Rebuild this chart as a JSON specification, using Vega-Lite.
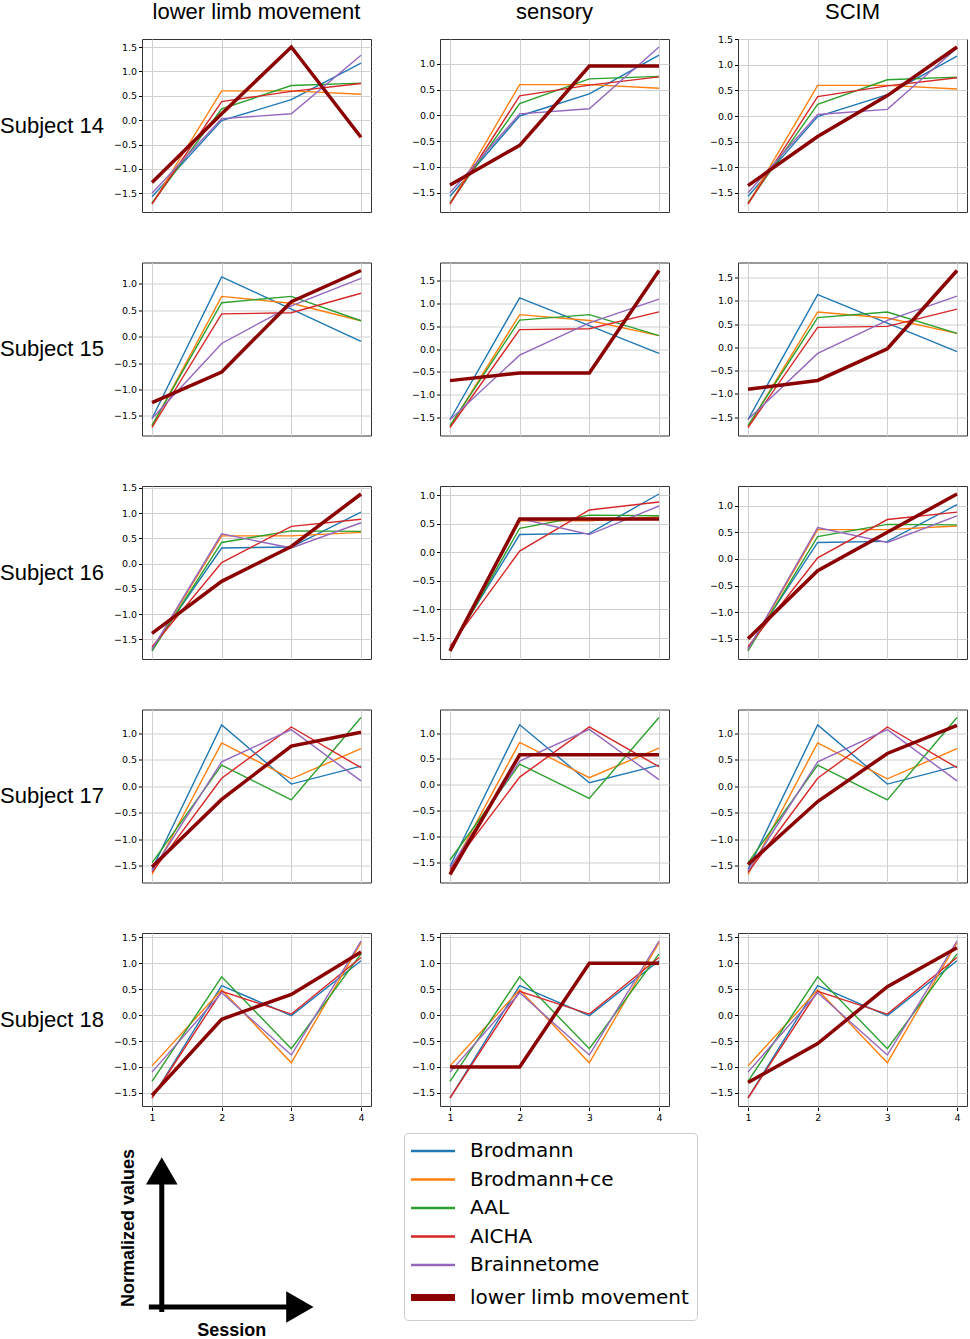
{
  "$schema": "https://vega.github.io/schema/vega-lite/v6.json",
  "description": "Normalized atlas predictions vs clinical scores per subject and session",
  "padding": {"top": 1, "left": 0, "right": 0, "bottom": 0},
  "autosize": {"type": "pad"},
  "data": {
    "values": [
      {"subject":"Subject 14","measure":"lower limb movement","series":"Brodmann","session":1,"value":-1.57},
      {"subject":"Subject 14","measure":"lower limb movement","series":"Brodmann","session":2,"value":-0.01},
      {"subject":"Subject 14","measure":"lower limb movement","series":"Brodmann","session":3,"value":0.42},
      {"subject":"Subject 14","measure":"lower limb movement","series":"Brodmann","session":4,"value":1.17},
      {"subject":"Subject 14","measure":"lower limb movement","series":"Brodmann+ce","session":1,"value":-1.72},
      {"subject":"Subject 14","measure":"lower limb movement","series":"Brodmann+ce","session":2,"value":0.6},
      {"subject":"Subject 14","measure":"lower limb movement","series":"Brodmann+ce","session":3,"value":0.6},
      {"subject":"Subject 14","measure":"lower limb movement","series":"Brodmann+ce","session":4,"value":0.53},
      {"subject":"Subject 14","measure":"lower limb movement","series":"AAL","session":1,"value":-1.7},
      {"subject":"Subject 14","measure":"lower limb movement","series":"AAL","session":2,"value":0.23},
      {"subject":"Subject 14","measure":"lower limb movement","series":"AAL","session":3,"value":0.71},
      {"subject":"Subject 14","measure":"lower limb movement","series":"AAL","session":4,"value":0.76},
      {"subject":"Subject 14","measure":"lower limb movement","series":"AICHA","session":1,"value":-1.72},
      {"subject":"Subject 14","measure":"lower limb movement","series":"AICHA","session":2,"value":0.38},
      {"subject":"Subject 14","measure":"lower limb movement","series":"AICHA","session":3,"value":0.59},
      {"subject":"Subject 14","measure":"lower limb movement","series":"AICHA","session":4,"value":0.75},
      {"subject":"Subject 14","measure":"lower limb movement","series":"Brainnetome","session":1,"value":-1.5},
      {"subject":"Subject 14","measure":"lower limb movement","series":"Brainnetome","session":2,"value":0.03},
      {"subject":"Subject 14","measure":"lower limb movement","series":"Brainnetome","session":3,"value":0.13},
      {"subject":"Subject 14","measure":"lower limb movement","series":"Brainnetome","session":4,"value":1.33},
      {"subject":"Subject 14","measure":"lower limb movement","series":"score","session":1,"value":-1.28},
      {"subject":"Subject 14","measure":"lower limb movement","series":"score","session":2,"value":0.13},
      {"subject":"Subject 14","measure":"lower limb movement","series":"score","session":3,"value":1.5},
      {"subject":"Subject 14","measure":"lower limb movement","series":"score","session":4,"value":-0.35},
      {"subject":"Subject 14","measure":"sensory","series":"Brodmann","session":1,"value":-1.57},
      {"subject":"Subject 14","measure":"sensory","series":"Brodmann","session":2,"value":-0.01},
      {"subject":"Subject 14","measure":"sensory","series":"Brodmann","session":3,"value":0.42},
      {"subject":"Subject 14","measure":"sensory","series":"Brodmann","session":4,"value":1.17},
      {"subject":"Subject 14","measure":"sensory","series":"Brodmann+ce","session":1,"value":-1.72},
      {"subject":"Subject 14","measure":"sensory","series":"Brodmann+ce","session":2,"value":0.6},
      {"subject":"Subject 14","measure":"sensory","series":"Brodmann+ce","session":3,"value":0.6},
      {"subject":"Subject 14","measure":"sensory","series":"Brodmann+ce","session":4,"value":0.53},
      {"subject":"Subject 14","measure":"sensory","series":"AAL","session":1,"value":-1.7},
      {"subject":"Subject 14","measure":"sensory","series":"AAL","session":2,"value":0.23},
      {"subject":"Subject 14","measure":"sensory","series":"AAL","session":3,"value":0.71},
      {"subject":"Subject 14","measure":"sensory","series":"AAL","session":4,"value":0.76},
      {"subject":"Subject 14","measure":"sensory","series":"AICHA","session":1,"value":-1.72},
      {"subject":"Subject 14","measure":"sensory","series":"AICHA","session":2,"value":0.38},
      {"subject":"Subject 14","measure":"sensory","series":"AICHA","session":3,"value":0.59},
      {"subject":"Subject 14","measure":"sensory","series":"AICHA","session":4,"value":0.75},
      {"subject":"Subject 14","measure":"sensory","series":"Brainnetome","session":1,"value":-1.5},
      {"subject":"Subject 14","measure":"sensory","series":"Brainnetome","session":2,"value":0.03},
      {"subject":"Subject 14","measure":"sensory","series":"Brainnetome","session":3,"value":0.13},
      {"subject":"Subject 14","measure":"sensory","series":"Brainnetome","session":4,"value":1.33},
      {"subject":"Subject 14","measure":"sensory","series":"score","session":1,"value":-1.35},
      {"subject":"Subject 14","measure":"sensory","series":"score","session":2,"value":-0.58},
      {"subject":"Subject 14","measure":"sensory","series":"score","session":3,"value":0.96},
      {"subject":"Subject 14","measure":"sensory","series":"score","session":4,"value":0.96},
      {"subject":"Subject 14","measure":"SCIM","series":"Brodmann","session":1,"value":-1.57},
      {"subject":"Subject 14","measure":"SCIM","series":"Brodmann","session":2,"value":-0.01},
      {"subject":"Subject 14","measure":"SCIM","series":"Brodmann","session":3,"value":0.42},
      {"subject":"Subject 14","measure":"SCIM","series":"Brodmann","session":4,"value":1.17},
      {"subject":"Subject 14","measure":"SCIM","series":"Brodmann+ce","session":1,"value":-1.72},
      {"subject":"Subject 14","measure":"SCIM","series":"Brodmann+ce","session":2,"value":0.6},
      {"subject":"Subject 14","measure":"SCIM","series":"Brodmann+ce","session":3,"value":0.6},
      {"subject":"Subject 14","measure":"SCIM","series":"Brodmann+ce","session":4,"value":0.53},
      {"subject":"Subject 14","measure":"SCIM","series":"AAL","session":1,"value":-1.7},
      {"subject":"Subject 14","measure":"SCIM","series":"AAL","session":2,"value":0.23},
      {"subject":"Subject 14","measure":"SCIM","series":"AAL","session":3,"value":0.71},
      {"subject":"Subject 14","measure":"SCIM","series":"AAL","session":4,"value":0.76},
      {"subject":"Subject 14","measure":"SCIM","series":"AICHA","session":1,"value":-1.72},
      {"subject":"Subject 14","measure":"SCIM","series":"AICHA","session":2,"value":0.38},
      {"subject":"Subject 14","measure":"SCIM","series":"AICHA","session":3,"value":0.59},
      {"subject":"Subject 14","measure":"SCIM","series":"AICHA","session":4,"value":0.75},
      {"subject":"Subject 14","measure":"SCIM","series":"Brainnetome","session":1,"value":-1.5},
      {"subject":"Subject 14","measure":"SCIM","series":"Brainnetome","session":2,"value":0.03},
      {"subject":"Subject 14","measure":"SCIM","series":"Brainnetome","session":3,"value":0.13},
      {"subject":"Subject 14","measure":"SCIM","series":"Brainnetome","session":4,"value":1.33},
      {"subject":"Subject 14","measure":"SCIM","series":"score","session":1,"value":-1.36},
      {"subject":"Subject 14","measure":"SCIM","series":"score","session":2,"value":-0.4},
      {"subject":"Subject 14","measure":"SCIM","series":"score","session":3,"value":0.4},
      {"subject":"Subject 14","measure":"SCIM","series":"score","session":4,"value":1.35},

      {"subject":"Subject 15","measure":"lower limb movement","series":"Brodmann","session":1,"value":-1.55},
      {"subject":"Subject 15","measure":"lower limb movement","series":"Brodmann","session":2,"value":1.13},
      {"subject":"Subject 15","measure":"lower limb movement","series":"Brodmann","session":3,"value":0.52},
      {"subject":"Subject 15","measure":"lower limb movement","series":"Brodmann","session":4,"value":-0.09},
      {"subject":"Subject 15","measure":"lower limb movement","series":"Brodmann+ce","session":1,"value":-1.7},
      {"subject":"Subject 15","measure":"lower limb movement","series":"Brodmann+ce","session":2,"value":0.76},
      {"subject":"Subject 15","measure":"lower limb movement","series":"Brodmann+ce","session":3,"value":0.63},
      {"subject":"Subject 15","measure":"lower limb movement","series":"Brodmann+ce","session":4,"value":0.3},
      {"subject":"Subject 15","measure":"lower limb movement","series":"AAL","session":1,"value":-1.68},
      {"subject":"Subject 15","measure":"lower limb movement","series":"AAL","session":2,"value":0.64},
      {"subject":"Subject 15","measure":"lower limb movement","series":"AAL","session":3,"value":0.76},
      {"subject":"Subject 15","measure":"lower limb movement","series":"AAL","session":4,"value":0.3},
      {"subject":"Subject 15","measure":"lower limb movement","series":"AICHA","session":1,"value":-1.72},
      {"subject":"Subject 15","measure":"lower limb movement","series":"AICHA","session":2,"value":0.43},
      {"subject":"Subject 15","measure":"lower limb movement","series":"AICHA","session":3,"value":0.45},
      {"subject":"Subject 15","measure":"lower limb movement","series":"AICHA","session":4,"value":0.82},
      {"subject":"Subject 15","measure":"lower limb movement","series":"Brainnetome","session":1,"value":-1.55},
      {"subject":"Subject 15","measure":"lower limb movement","series":"Brainnetome","session":2,"value":-0.13},
      {"subject":"Subject 15","measure":"lower limb movement","series":"Brainnetome","session":3,"value":0.58},
      {"subject":"Subject 15","measure":"lower limb movement","series":"Brainnetome","session":4,"value":1.1},
      {"subject":"Subject 15","measure":"lower limb movement","series":"score","session":1,"value":-1.25},
      {"subject":"Subject 15","measure":"lower limb movement","series":"score","session":2,"value":-0.67},
      {"subject":"Subject 15","measure":"lower limb movement","series":"score","session":3,"value":0.66},
      {"subject":"Subject 15","measure":"lower limb movement","series":"score","session":4,"value":1.25},
      {"subject":"Subject 15","measure":"sensory","series":"Brodmann","session":1,"value":-1.55},
      {"subject":"Subject 15","measure":"sensory","series":"Brodmann","session":2,"value":1.13},
      {"subject":"Subject 15","measure":"sensory","series":"Brodmann","session":3,"value":0.52},
      {"subject":"Subject 15","measure":"sensory","series":"Brodmann","session":4,"value":-0.09},
      {"subject":"Subject 15","measure":"sensory","series":"Brodmann+ce","session":1,"value":-1.7},
      {"subject":"Subject 15","measure":"sensory","series":"Brodmann+ce","session":2,"value":0.76},
      {"subject":"Subject 15","measure":"sensory","series":"Brodmann+ce","session":3,"value":0.63},
      {"subject":"Subject 15","measure":"sensory","series":"Brodmann+ce","session":4,"value":0.3},
      {"subject":"Subject 15","measure":"sensory","series":"AAL","session":1,"value":-1.68},
      {"subject":"Subject 15","measure":"sensory","series":"AAL","session":2,"value":0.64},
      {"subject":"Subject 15","measure":"sensory","series":"AAL","session":3,"value":0.76},
      {"subject":"Subject 15","measure":"sensory","series":"AAL","session":4,"value":0.3},
      {"subject":"Subject 15","measure":"sensory","series":"AICHA","session":1,"value":-1.72},
      {"subject":"Subject 15","measure":"sensory","series":"AICHA","session":2,"value":0.43},
      {"subject":"Subject 15","measure":"sensory","series":"AICHA","session":3,"value":0.45},
      {"subject":"Subject 15","measure":"sensory","series":"AICHA","session":4,"value":0.82},
      {"subject":"Subject 15","measure":"sensory","series":"Brainnetome","session":1,"value":-1.55},
      {"subject":"Subject 15","measure":"sensory","series":"Brainnetome","session":2,"value":-0.13},
      {"subject":"Subject 15","measure":"sensory","series":"Brainnetome","session":3,"value":0.58},
      {"subject":"Subject 15","measure":"sensory","series":"Brainnetome","session":4,"value":1.1},
      {"subject":"Subject 15","measure":"sensory","series":"score","session":1,"value":-0.69},
      {"subject":"Subject 15","measure":"sensory","series":"score","session":2,"value":-0.52},
      {"subject":"Subject 15","measure":"sensory","series":"score","session":3,"value":-0.52},
      {"subject":"Subject 15","measure":"sensory","series":"score","session":4,"value":1.73},
      {"subject":"Subject 15","measure":"SCIM","series":"Brodmann","session":1,"value":-1.55},
      {"subject":"Subject 15","measure":"SCIM","series":"Brodmann","session":2,"value":1.13},
      {"subject":"Subject 15","measure":"SCIM","series":"Brodmann","session":3,"value":0.52},
      {"subject":"Subject 15","measure":"SCIM","series":"Brodmann","session":4,"value":-0.09},
      {"subject":"Subject 15","measure":"SCIM","series":"Brodmann+ce","session":1,"value":-1.7},
      {"subject":"Subject 15","measure":"SCIM","series":"Brodmann+ce","session":2,"value":0.76},
      {"subject":"Subject 15","measure":"SCIM","series":"Brodmann+ce","session":3,"value":0.63},
      {"subject":"Subject 15","measure":"SCIM","series":"Brodmann+ce","session":4,"value":0.3},
      {"subject":"Subject 15","measure":"SCIM","series":"AAL","session":1,"value":-1.68},
      {"subject":"Subject 15","measure":"SCIM","series":"AAL","session":2,"value":0.64},
      {"subject":"Subject 15","measure":"SCIM","series":"AAL","session":3,"value":0.76},
      {"subject":"Subject 15","measure":"SCIM","series":"AAL","session":4,"value":0.3},
      {"subject":"Subject 15","measure":"SCIM","series":"AICHA","session":1,"value":-1.72},
      {"subject":"Subject 15","measure":"SCIM","series":"AICHA","session":2,"value":0.43},
      {"subject":"Subject 15","measure":"SCIM","series":"AICHA","session":3,"value":0.45},
      {"subject":"Subject 15","measure":"SCIM","series":"AICHA","session":4,"value":0.82},
      {"subject":"Subject 15","measure":"SCIM","series":"Brainnetome","session":1,"value":-1.55},
      {"subject":"Subject 15","measure":"SCIM","series":"Brainnetome","session":2,"value":-0.13},
      {"subject":"Subject 15","measure":"SCIM","series":"Brainnetome","session":3,"value":0.58},
      {"subject":"Subject 15","measure":"SCIM","series":"Brainnetome","session":4,"value":1.1},
      {"subject":"Subject 15","measure":"SCIM","series":"score","session":1,"value":-0.9},
      {"subject":"Subject 15","measure":"SCIM","series":"score","session":2,"value":-0.71},
      {"subject":"Subject 15","measure":"SCIM","series":"score","session":3,"value":-0.03},
      {"subject":"Subject 15","measure":"SCIM","series":"score","session":4,"value":1.65},

      {"subject":"Subject 16","measure":"lower limb movement","series":"Brodmann","session":1,"value":-1.68},
      {"subject":"Subject 16","measure":"lower limb movement","series":"Brodmann","session":2,"value":0.31},
      {"subject":"Subject 16","measure":"lower limb movement","series":"Brodmann","session":3,"value":0.33},
      {"subject":"Subject 16","measure":"lower limb movement","series":"Brodmann","session":4,"value":1.02},
      {"subject":"Subject 16","measure":"lower limb movement","series":"Brodmann+ce","session":1,"value":-1.72},
      {"subject":"Subject 16","measure":"lower limb movement","series":"Brodmann+ce","session":2,"value":0.55},
      {"subject":"Subject 16","measure":"lower limb movement","series":"Brodmann+ce","session":3,"value":0.55},
      {"subject":"Subject 16","measure":"lower limb movement","series":"Brodmann+ce","session":4,"value":0.62},
      {"subject":"Subject 16","measure":"lower limb movement","series":"AAL","session":1,"value":-1.73},
      {"subject":"Subject 16","measure":"lower limb movement","series":"AAL","session":2,"value":0.42},
      {"subject":"Subject 16","measure":"lower limb movement","series":"AAL","session":3,"value":0.65},
      {"subject":"Subject 16","measure":"lower limb movement","series":"AAL","session":4,"value":0.64},
      {"subject":"Subject 16","measure":"lower limb movement","series":"AICHA","session":1,"value":-1.65},
      {"subject":"Subject 16","measure":"lower limb movement","series":"AICHA","session":2,"value":0.02},
      {"subject":"Subject 16","measure":"lower limb movement","series":"AICHA","session":3,"value":0.74},
      {"subject":"Subject 16","measure":"lower limb movement","series":"AICHA","session":4,"value":0.88},
      {"subject":"Subject 16","measure":"lower limb movement","series":"Brainnetome","session":1,"value":-1.7},
      {"subject":"Subject 16","measure":"lower limb movement","series":"Brainnetome","session":2,"value":0.59},
      {"subject":"Subject 16","measure":"lower limb movement","series":"Brainnetome","session":3,"value":0.31},
      {"subject":"Subject 16","measure":"lower limb movement","series":"Brainnetome","session":4,"value":0.81},
      {"subject":"Subject 16","measure":"lower limb movement","series":"score","session":1,"value":-1.38},
      {"subject":"Subject 16","measure":"lower limb movement","series":"score","session":2,"value":-0.35},
      {"subject":"Subject 16","measure":"lower limb movement","series":"score","session":3,"value":0.34},
      {"subject":"Subject 16","measure":"lower limb movement","series":"score","session":4,"value":1.38},
      {"subject":"Subject 16","measure":"sensory","series":"Brodmann","session":1,"value":-1.68},
      {"subject":"Subject 16","measure":"sensory","series":"Brodmann","session":2,"value":0.31},
      {"subject":"Subject 16","measure":"sensory","series":"Brodmann","session":3,"value":0.33},
      {"subject":"Subject 16","measure":"sensory","series":"Brodmann","session":4,"value":1.02},
      {"subject":"Subject 16","measure":"sensory","series":"Brodmann+ce","session":1,"value":-1.72},
      {"subject":"Subject 16","measure":"sensory","series":"Brodmann+ce","session":2,"value":0.55},
      {"subject":"Subject 16","measure":"sensory","series":"Brodmann+ce","session":3,"value":0.55},
      {"subject":"Subject 16","measure":"sensory","series":"Brodmann+ce","session":4,"value":0.62},
      {"subject":"Subject 16","measure":"sensory","series":"AAL","session":1,"value":-1.73},
      {"subject":"Subject 16","measure":"sensory","series":"AAL","session":2,"value":0.42},
      {"subject":"Subject 16","measure":"sensory","series":"AAL","session":3,"value":0.65},
      {"subject":"Subject 16","measure":"sensory","series":"AAL","session":4,"value":0.64},
      {"subject":"Subject 16","measure":"sensory","series":"AICHA","session":1,"value":-1.65},
      {"subject":"Subject 16","measure":"sensory","series":"AICHA","session":2,"value":0.02},
      {"subject":"Subject 16","measure":"sensory","series":"AICHA","session":3,"value":0.74},
      {"subject":"Subject 16","measure":"sensory","series":"AICHA","session":4,"value":0.88},
      {"subject":"Subject 16","measure":"sensory","series":"Brainnetome","session":1,"value":-1.7},
      {"subject":"Subject 16","measure":"sensory","series":"Brainnetome","session":2,"value":0.59},
      {"subject":"Subject 16","measure":"sensory","series":"Brainnetome","session":3,"value":0.31},
      {"subject":"Subject 16","measure":"sensory","series":"Brainnetome","session":4,"value":0.81},
      {"subject":"Subject 16","measure":"sensory","series":"score","session":1,"value":-1.73},
      {"subject":"Subject 16","measure":"sensory","series":"score","session":2,"value":0.58},
      {"subject":"Subject 16","measure":"sensory","series":"score","session":3,"value":0.58},
      {"subject":"Subject 16","measure":"sensory","series":"score","session":4,"value":0.58},
      {"subject":"Subject 16","measure":"SCIM","series":"Brodmann","session":1,"value":-1.68},
      {"subject":"Subject 16","measure":"SCIM","series":"Brodmann","session":2,"value":0.31},
      {"subject":"Subject 16","measure":"SCIM","series":"Brodmann","session":3,"value":0.33},
      {"subject":"Subject 16","measure":"SCIM","series":"Brodmann","session":4,"value":1.02},
      {"subject":"Subject 16","measure":"SCIM","series":"Brodmann+ce","session":1,"value":-1.72},
      {"subject":"Subject 16","measure":"SCIM","series":"Brodmann+ce","session":2,"value":0.55},
      {"subject":"Subject 16","measure":"SCIM","series":"Brodmann+ce","session":3,"value":0.55},
      {"subject":"Subject 16","measure":"SCIM","series":"Brodmann+ce","session":4,"value":0.62},
      {"subject":"Subject 16","measure":"SCIM","series":"AAL","session":1,"value":-1.73},
      {"subject":"Subject 16","measure":"SCIM","series":"AAL","session":2,"value":0.42},
      {"subject":"Subject 16","measure":"SCIM","series":"AAL","session":3,"value":0.65},
      {"subject":"Subject 16","measure":"SCIM","series":"AAL","session":4,"value":0.64},
      {"subject":"Subject 16","measure":"SCIM","series":"AICHA","session":1,"value":-1.65},
      {"subject":"Subject 16","measure":"SCIM","series":"AICHA","session":2,"value":0.02},
      {"subject":"Subject 16","measure":"SCIM","series":"AICHA","session":3,"value":0.74},
      {"subject":"Subject 16","measure":"SCIM","series":"AICHA","session":4,"value":0.88},
      {"subject":"Subject 16","measure":"SCIM","series":"Brainnetome","session":1,"value":-1.7},
      {"subject":"Subject 16","measure":"SCIM","series":"Brainnetome","session":2,"value":0.59},
      {"subject":"Subject 16","measure":"SCIM","series":"Brainnetome","session":3,"value":0.31},
      {"subject":"Subject 16","measure":"SCIM","series":"Brainnetome","session":4,"value":0.81},
      {"subject":"Subject 16","measure":"SCIM","series":"score","session":1,"value":-1.5},
      {"subject":"Subject 16","measure":"SCIM","series":"score","session":2,"value":-0.22},
      {"subject":"Subject 16","measure":"SCIM","series":"score","session":3,"value":0.5},
      {"subject":"Subject 16","measure":"SCIM","series":"score","session":4,"value":1.22},

      {"subject":"Subject 17","measure":"lower limb movement","series":"Brodmann","session":1,"value":-1.57},
      {"subject":"Subject 17","measure":"lower limb movement","series":"Brodmann","session":2,"value":1.16},
      {"subject":"Subject 17","measure":"lower limb movement","series":"Brodmann","session":3,"value":0.04},
      {"subject":"Subject 17","measure":"lower limb movement","series":"Brodmann","session":4,"value":0.38},
      {"subject":"Subject 17","measure":"lower limb movement","series":"Brodmann+ce","session":1,"value":-1.67},
      {"subject":"Subject 17","measure":"lower limb movement","series":"Brodmann+ce","session":2,"value":0.82},
      {"subject":"Subject 17","measure":"lower limb movement","series":"Brodmann+ce","session":3,"value":0.14},
      {"subject":"Subject 17","measure":"lower limb movement","series":"Brodmann+ce","session":4,"value":0.71},
      {"subject":"Subject 17","measure":"lower limb movement","series":"AAL","session":1,"value":-1.45},
      {"subject":"Subject 17","measure":"lower limb movement","series":"AAL","session":2,"value":0.4},
      {"subject":"Subject 17","measure":"lower limb movement","series":"AAL","session":3,"value":-0.26},
      {"subject":"Subject 17","measure":"lower limb movement","series":"AAL","session":4,"value":1.3},
      {"subject":"Subject 17","measure":"lower limb movement","series":"AICHA","session":1,"value":-1.63},
      {"subject":"Subject 17","measure":"lower limb movement","series":"AICHA","session":2,"value":0.15},
      {"subject":"Subject 17","measure":"lower limb movement","series":"AICHA","session":3,"value":1.12},
      {"subject":"Subject 17","measure":"lower limb movement","series":"AICHA","session":4,"value":0.35},
      {"subject":"Subject 17","measure":"lower limb movement","series":"Brainnetome","session":1,"value":-1.6},
      {"subject":"Subject 17","measure":"lower limb movement","series":"Brainnetome","session":2,"value":0.46},
      {"subject":"Subject 17","measure":"lower limb movement","series":"Brainnetome","session":3,"value":1.07},
      {"subject":"Subject 17","measure":"lower limb movement","series":"Brainnetome","session":4,"value":0.1},
      {"subject":"Subject 17","measure":"lower limb movement","series":"score","session":1,"value":-1.53},
      {"subject":"Subject 17","measure":"lower limb movement","series":"score","session":2,"value":-0.25},
      {"subject":"Subject 17","measure":"lower limb movement","series":"score","session":3,"value":0.76},
      {"subject":"Subject 17","measure":"lower limb movement","series":"score","session":4,"value":1.02},
      {"subject":"Subject 17","measure":"sensory","series":"Brodmann","session":1,"value":-1.57},
      {"subject":"Subject 17","measure":"sensory","series":"Brodmann","session":2,"value":1.16},
      {"subject":"Subject 17","measure":"sensory","series":"Brodmann","session":3,"value":0.04},
      {"subject":"Subject 17","measure":"sensory","series":"Brodmann","session":4,"value":0.38},
      {"subject":"Subject 17","measure":"sensory","series":"Brodmann+ce","session":1,"value":-1.67},
      {"subject":"Subject 17","measure":"sensory","series":"Brodmann+ce","session":2,"value":0.82},
      {"subject":"Subject 17","measure":"sensory","series":"Brodmann+ce","session":3,"value":0.14},
      {"subject":"Subject 17","measure":"sensory","series":"Brodmann+ce","session":4,"value":0.71},
      {"subject":"Subject 17","measure":"sensory","series":"AAL","session":1,"value":-1.45},
      {"subject":"Subject 17","measure":"sensory","series":"AAL","session":2,"value":0.4},
      {"subject":"Subject 17","measure":"sensory","series":"AAL","session":3,"value":-0.26},
      {"subject":"Subject 17","measure":"sensory","series":"AAL","session":4,"value":1.3},
      {"subject":"Subject 17","measure":"sensory","series":"AICHA","session":1,"value":-1.63},
      {"subject":"Subject 17","measure":"sensory","series":"AICHA","session":2,"value":0.15},
      {"subject":"Subject 17","measure":"sensory","series":"AICHA","session":3,"value":1.12},
      {"subject":"Subject 17","measure":"sensory","series":"AICHA","session":4,"value":0.35},
      {"subject":"Subject 17","measure":"sensory","series":"Brainnetome","session":1,"value":-1.6},
      {"subject":"Subject 17","measure":"sensory","series":"Brainnetome","session":2,"value":0.46},
      {"subject":"Subject 17","measure":"sensory","series":"Brainnetome","session":3,"value":1.07},
      {"subject":"Subject 17","measure":"sensory","series":"Brainnetome","session":4,"value":0.1},
      {"subject":"Subject 17","measure":"sensory","series":"score","session":1,"value":-1.73},
      {"subject":"Subject 17","measure":"sensory","series":"score","session":2,"value":0.58},
      {"subject":"Subject 17","measure":"sensory","series":"score","session":3,"value":0.58},
      {"subject":"Subject 17","measure":"sensory","series":"score","session":4,"value":0.58},
      {"subject":"Subject 17","measure":"SCIM","series":"Brodmann","session":1,"value":-1.57},
      {"subject":"Subject 17","measure":"SCIM","series":"Brodmann","session":2,"value":1.16},
      {"subject":"Subject 17","measure":"SCIM","series":"Brodmann","session":3,"value":0.04},
      {"subject":"Subject 17","measure":"SCIM","series":"Brodmann","session":4,"value":0.38},
      {"subject":"Subject 17","measure":"SCIM","series":"Brodmann+ce","session":1,"value":-1.67},
      {"subject":"Subject 17","measure":"SCIM","series":"Brodmann+ce","session":2,"value":0.82},
      {"subject":"Subject 17","measure":"SCIM","series":"Brodmann+ce","session":3,"value":0.14},
      {"subject":"Subject 17","measure":"SCIM","series":"Brodmann+ce","session":4,"value":0.71},
      {"subject":"Subject 17","measure":"SCIM","series":"AAL","session":1,"value":-1.45},
      {"subject":"Subject 17","measure":"SCIM","series":"AAL","session":2,"value":0.4},
      {"subject":"Subject 17","measure":"SCIM","series":"AAL","session":3,"value":-0.26},
      {"subject":"Subject 17","measure":"SCIM","series":"AAL","session":4,"value":1.3},
      {"subject":"Subject 17","measure":"SCIM","series":"AICHA","session":1,"value":-1.63},
      {"subject":"Subject 17","measure":"SCIM","series":"AICHA","session":2,"value":0.15},
      {"subject":"Subject 17","measure":"SCIM","series":"AICHA","session":3,"value":1.12},
      {"subject":"Subject 17","measure":"SCIM","series":"AICHA","session":4,"value":0.35},
      {"subject":"Subject 17","measure":"SCIM","series":"Brainnetome","session":1,"value":-1.6},
      {"subject":"Subject 17","measure":"SCIM","series":"Brainnetome","session":2,"value":0.46},
      {"subject":"Subject 17","measure":"SCIM","series":"Brainnetome","session":3,"value":1.07},
      {"subject":"Subject 17","measure":"SCIM","series":"Brainnetome","session":4,"value":0.1},
      {"subject":"Subject 17","measure":"SCIM","series":"score","session":1,"value":-1.48},
      {"subject":"Subject 17","measure":"SCIM","series":"score","session":2,"value":-0.29},
      {"subject":"Subject 17","measure":"SCIM","series":"score","session":3,"value":0.62},
      {"subject":"Subject 17","measure":"SCIM","series":"score","session":4,"value":1.15},

      {"subject":"Subject 18","measure":"lower limb movement","series":"Brodmann","session":1,"value":-1.6},
      {"subject":"Subject 18","measure":"lower limb movement","series":"Brodmann","session":2,"value":0.57},
      {"subject":"Subject 18","measure":"lower limb movement","series":"Brodmann","session":3,"value":-0.01},
      {"subject":"Subject 18","measure":"lower limb movement","series":"Brodmann","session":4,"value":1.05},
      {"subject":"Subject 18","measure":"lower limb movement","series":"Brodmann+ce","session":1,"value":-0.98},
      {"subject":"Subject 18","measure":"lower limb movement","series":"Brodmann+ce","session":2,"value":0.49},
      {"subject":"Subject 18","measure":"lower limb movement","series":"Brodmann+ce","session":3,"value":-0.92},
      {"subject":"Subject 18","measure":"lower limb movement","series":"Brodmann+ce","session":4,"value":1.4},
      {"subject":"Subject 18","measure":"lower limb movement","series":"AAL","session":1,"value":-1.28},
      {"subject":"Subject 18","measure":"lower limb movement","series":"AAL","session":2,"value":0.74},
      {"subject":"Subject 18","measure":"lower limb movement","series":"AAL","session":3,"value":-0.65},
      {"subject":"Subject 18","measure":"lower limb movement","series":"AAL","session":4,"value":1.18},
      {"subject":"Subject 18","measure":"lower limb movement","series":"AICHA","session":1,"value":-1.6},
      {"subject":"Subject 18","measure":"lower limb movement","series":"AICHA","session":2,"value":0.46},
      {"subject":"Subject 18","measure":"lower limb movement","series":"AICHA","session":3,"value":0.02},
      {"subject":"Subject 18","measure":"lower limb movement","series":"AICHA","session":4,"value":1.11},
      {"subject":"Subject 18","measure":"lower limb movement","series":"Brainnetome","session":1,"value":-1.1},
      {"subject":"Subject 18","measure":"lower limb movement","series":"Brainnetome","session":2,"value":0.43},
      {"subject":"Subject 18","measure":"lower limb movement","series":"Brainnetome","session":3,"value":-0.77},
      {"subject":"Subject 18","measure":"lower limb movement","series":"Brainnetome","session":4,"value":1.43},
      {"subject":"Subject 18","measure":"lower limb movement","series":"score","session":1,"value":-1.55},
      {"subject":"Subject 18","measure":"lower limb movement","series":"score","session":2,"value":-0.08},
      {"subject":"Subject 18","measure":"lower limb movement","series":"score","session":3,"value":0.4},
      {"subject":"Subject 18","measure":"lower limb movement","series":"score","session":4,"value":1.22},
      {"subject":"Subject 18","measure":"sensory","series":"Brodmann","session":1,"value":-1.6},
      {"subject":"Subject 18","measure":"sensory","series":"Brodmann","session":2,"value":0.57},
      {"subject":"Subject 18","measure":"sensory","series":"Brodmann","session":3,"value":-0.01},
      {"subject":"Subject 18","measure":"sensory","series":"Brodmann","session":4,"value":1.05},
      {"subject":"Subject 18","measure":"sensory","series":"Brodmann+ce","session":1,"value":-0.98},
      {"subject":"Subject 18","measure":"sensory","series":"Brodmann+ce","session":2,"value":0.49},
      {"subject":"Subject 18","measure":"sensory","series":"Brodmann+ce","session":3,"value":-0.92},
      {"subject":"Subject 18","measure":"sensory","series":"Brodmann+ce","session":4,"value":1.4},
      {"subject":"Subject 18","measure":"sensory","series":"AAL","session":1,"value":-1.28},
      {"subject":"Subject 18","measure":"sensory","series":"AAL","session":2,"value":0.74},
      {"subject":"Subject 18","measure":"sensory","series":"AAL","session":3,"value":-0.65},
      {"subject":"Subject 18","measure":"sensory","series":"AAL","session":4,"value":1.18},
      {"subject":"Subject 18","measure":"sensory","series":"AICHA","session":1,"value":-1.6},
      {"subject":"Subject 18","measure":"sensory","series":"AICHA","session":2,"value":0.46},
      {"subject":"Subject 18","measure":"sensory","series":"AICHA","session":3,"value":0.02},
      {"subject":"Subject 18","measure":"sensory","series":"AICHA","session":4,"value":1.11},
      {"subject":"Subject 18","measure":"sensory","series":"Brainnetome","session":1,"value":-1.1},
      {"subject":"Subject 18","measure":"sensory","series":"Brainnetome","session":2,"value":0.43},
      {"subject":"Subject 18","measure":"sensory","series":"Brainnetome","session":3,"value":-0.77},
      {"subject":"Subject 18","measure":"sensory","series":"Brainnetome","session":4,"value":1.43},
      {"subject":"Subject 18","measure":"sensory","series":"score","session":1,"value":-1.0},
      {"subject":"Subject 18","measure":"sensory","series":"score","session":2,"value":-1.0},
      {"subject":"Subject 18","measure":"sensory","series":"score","session":3,"value":1.0},
      {"subject":"Subject 18","measure":"sensory","series":"score","session":4,"value":1.0},
      {"subject":"Subject 18","measure":"SCIM","series":"Brodmann","session":1,"value":-1.6},
      {"subject":"Subject 18","measure":"SCIM","series":"Brodmann","session":2,"value":0.57},
      {"subject":"Subject 18","measure":"SCIM","series":"Brodmann","session":3,"value":-0.01},
      {"subject":"Subject 18","measure":"SCIM","series":"Brodmann","session":4,"value":1.05},
      {"subject":"Subject 18","measure":"SCIM","series":"Brodmann+ce","session":1,"value":-0.98},
      {"subject":"Subject 18","measure":"SCIM","series":"Brodmann+ce","session":2,"value":0.49},
      {"subject":"Subject 18","measure":"SCIM","series":"Brodmann+ce","session":3,"value":-0.92},
      {"subject":"Subject 18","measure":"SCIM","series":"Brodmann+ce","session":4,"value":1.4},
      {"subject":"Subject 18","measure":"SCIM","series":"AAL","session":1,"value":-1.28},
      {"subject":"Subject 18","measure":"SCIM","series":"AAL","session":2,"value":0.74},
      {"subject":"Subject 18","measure":"SCIM","series":"AAL","session":3,"value":-0.65},
      {"subject":"Subject 18","measure":"SCIM","series":"AAL","session":4,"value":1.18},
      {"subject":"Subject 18","measure":"SCIM","series":"AICHA","session":1,"value":-1.6},
      {"subject":"Subject 18","measure":"SCIM","series":"AICHA","session":2,"value":0.46},
      {"subject":"Subject 18","measure":"SCIM","series":"AICHA","session":3,"value":0.02},
      {"subject":"Subject 18","measure":"SCIM","series":"AICHA","session":4,"value":1.11},
      {"subject":"Subject 18","measure":"SCIM","series":"Brainnetome","session":1,"value":-1.1},
      {"subject":"Subject 18","measure":"SCIM","series":"Brainnetome","session":2,"value":0.43},
      {"subject":"Subject 18","measure":"SCIM","series":"Brainnetome","session":3,"value":-0.77},
      {"subject":"Subject 18","measure":"SCIM","series":"Brainnetome","session":4,"value":1.43},
      {"subject":"Subject 18","measure":"SCIM","series":"score","session":1,"value":-1.3},
      {"subject":"Subject 18","measure":"SCIM","series":"score","session":2,"value":-0.55},
      {"subject":"Subject 18","measure":"SCIM","series":"score","session":3,"value":0.55},
      {"subject":"Subject 18","measure":"SCIM","series":"score","session":4,"value":1.3}
    ]
  },
  "vconcat": [
    {
      "facet": {
        "row": {
          "field": "subject",
          "type": "nominal",
          "title": null,
          "header": {"labelAngle": 0, "labelAlign": "left", "labelFont": "Liberation Sans", "labelFontSize": 22, "labelColor": "black", "labelPadding": 8}
        },
        "column": {
          "field": "measure",
          "type": "nominal",
          "title": null,
          "sort": ["lower limb movement", "sensory", "SCIM"],
          "header": {"labelFont": "Liberation Sans", "labelFontSize": 22, "labelColor": "black", "labelPadding": 9}
        }
      },
      "spacing": {"row": 45.5, "column": 38},
      "spec": {
        "width": 229,
        "height": 173,
        "mark": {"type": "line"},
        "encoding": {
          "x": {
            "field": "session",
            "type": "quantitative",
            "title": null,
            "scale": {"zero": false, "nice": false, "padding": 10},
            "axis": {"values": [1, 2, 3, 4], "format": "d"}
          },
          "y": {
            "field": "value",
            "type": "quantitative",
            "title": null,
            "scale": {"zero": false, "nice": false, "padding": 8},
            "axis": {"values": [-2, -1.5, -1, -0.5, 0, 0.5, 1, 1.5, 2], "format": ".1f"}
          },
          "color": {
            "field": "series",
            "type": "nominal",
            "title": null,
            "scale": {
              "domain": ["Brodmann", "Brodmann+ce", "AAL", "AICHA", "Brainnetome", "score"],
              "range": ["#1f77b4", "#ff7f0e", "#2ca02c", "#d62728", "#9467bd", "#8b0000"]
            },
            "legend": {
              "orient": "none",
              "legendX": 262,
              "legendY": 1094,
              "symbolType": "M-1,0H3",
              "symbolSize": 484,
              "symbolStrokeWidth": 2.5,
              "labelFont": "DejaVu Sans",
              "labelFontSize": 20,
              "labelColor": "black",
              "labelOffset": 38,
              "labelLimit": 400,
              "rowPadding": 8.5,
              "padding": 8,
              "strokeColor": "#cccccc",
              "fillColor": "white",
              "cornerRadius": 4,
              "labelExpr": "datum.label == 'score' ? 'lower limb movement' : datum.label",
              "encode": {
                "symbols": {
                  "update": {
                    "strokeWidth": {"signal": "datum.value == 'score' ? 7 : 2.5"}
                  }
                }
              }
            }
          },
          "strokeWidth": {
            "condition": {"test": "datum.series == 'score'", "value": 3.5},
            "value": 1.4
          }
        }
      },
      "resolve": {"scale": {"y": "independent"}}
    },
    {
      "width": 330,
      "height": 209,
      "view": {"stroke": null},
      "layer": [
        {
          "data": {"values": [
            {"x": 0, "y": -0.033, "x2": 0, "y2": 0.86},
            {"x": -0.085, "y": 0, "x2": 0.86, "y2": 0}
          ]},
          "mark": {"type": "rule", "color": "black", "strokeWidth": 5},
          "encoding": {
            "x": {"field": "x", "type": "quantitative", "scale": {"domain": [-0.13, 2.04]}, "axis": null},
            "y": {"field": "y", "type": "quantitative", "scale": {"domain": [-0.21, 1.164]}, "axis": null},
            "x2": {"field": "x2"},
            "y2": {"field": "y2"}
          }
        },
        {
          "data": {"values": [
            {"x": 0, "y": 0.895, "head": "triangle-up"},
            {"x": 0.908, "y": 0, "head": "triangle-right"}
          ]},
          "mark": {"type": "point", "filled": true, "color": "black", "size": 1000, "opacity": 1},
          "encoding": {
            "x": {"field": "x", "type": "quantitative", "scale": {"domain": [-0.13, 2.04]}, "axis": null},
            "y": {"field": "y", "type": "quantitative", "scale": {"domain": [-0.21, 1.164]}, "axis": null},
            "shape": {"field": "head", "type": "nominal", "scale": {"domain": ["triangle-up", "triangle-right"], "range": ["triangle-up", "triangle-right"]}, "legend": null}
          }
        },
        {
          "data": {"values": [
            {"x": -0.217, "y": 0.52, "label": "Normalized values", "angle": 270},
            {"x": 0.46, "y": -0.158, "label": "Session", "angle": 0}
          ]},
          "mark": {"type": "text", "font": "Liberation Sans", "fontSize": 18, "fontWeight": "bold", "color": "black", "align": "center", "baseline": "middle"},
          "encoding": {
            "x": {"field": "x", "type": "quantitative", "scale": {"domain": [-0.13, 2.04]}, "axis": null},
            "y": {"field": "y", "type": "quantitative", "scale": {"domain": [-0.21, 1.164]}, "axis": null},
            "text": {"field": "label"},
            "angle": {"field": "angle", "type": "quantitative", "scale": null}
          }
        }
      ]
    }
  ],
  "spacing": 8,
  "config": {
    "view": {"stroke": "#333333", "strokeWidth": 1},
    "axis": {
      "domain": false,
      "grid": true,
      "gridColor": "#d0d0d0",
      "gridWidth": 1,
      "ticks": true,
      "tickColor": "black",
      "tickSize": 3.5,
      "labelFont": "DejaVu Sans",
      "labelFontSize": 9.5,
      "labelColor": "black",
      "labelPadding": 2
    }
  }
}
